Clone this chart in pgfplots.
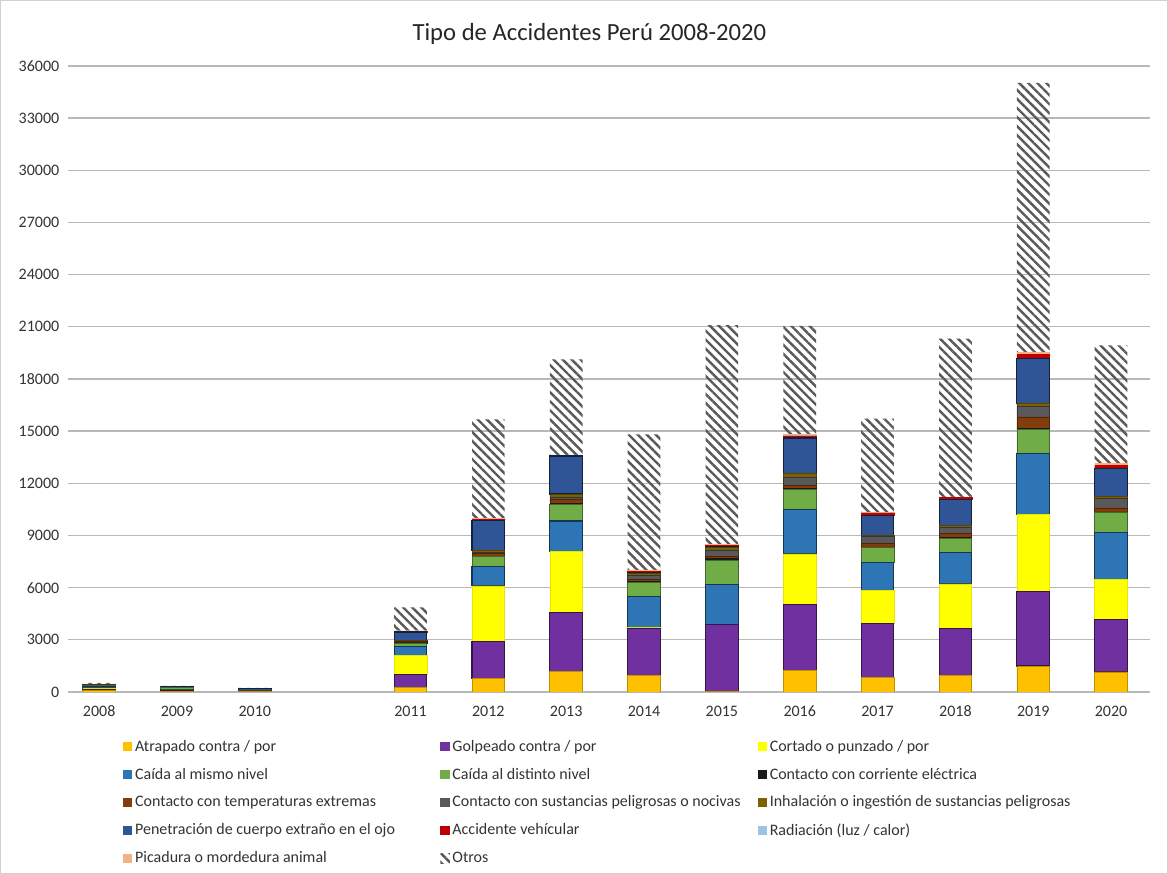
\documentclass[border=0pt]{standalone}
\usepackage{pgfplots}
\pgfplotsset{compat=1.18}
\usepackage{pgfplotstable}
\usepackage{fontspec}
\setmainfont{Carlito}
\usetikzlibrary{patterns.meta}

\definecolor{cAt}{HTML}{FFC000}
\definecolor{cGo}{HTML}{7030A0}
\definecolor{cCo}{HTML}{FFFF00}
\definecolor{cCm}{HTML}{2E75B6}
\definecolor{cCd}{HTML}{70AD47}
\definecolor{cCe}{HTML}{1A1A1A}
\definecolor{cTe}{HTML}{843C0C}
\definecolor{cSu}{HTML}{595959}
\definecolor{cIn}{HTML}{7F6000}
\definecolor{cPe}{HTML}{2F5597}
\definecolor{cVe}{HTML}{C00000}
\definecolor{cRa}{HTML}{9DC3E6}
\definecolor{cPi}{HTML}{F4B183}
\definecolor{cOt}{HTML}{595959}

\pgfplotstableread{
x  at   go   co   cm   cd   ce  te  su  inh pe   ve  ra pi  ot
0  80   40   110  60   100  10  10  10  10  20   5   2  5   60
1  40   30   50   40   100  10  5   5   5   10   5   2  5   50
2  10   20   10   10   10   5   5   5   5   120  5   2  20  10
4  250  770  1090 480  230  20  60  30  40  480  20  5  50  1340
5  770  2110 3220 1130 540  40  150 80  110 1725 60  5  40  5700
6  1190 3355 3545 1745 940  60  270 80  200 2185 30  5  30  5495
7  957  2720 40   1780 805  80  100 250 100 60   60  5  60  7800
8  40   3830 0    2320 1380 100 150 350 150 50   80  5  40  12600
9  1245 3790 2910 2530 1170 50  170 500 190 2050 130 5  60  6250
10 843  3120 1895 1610 823  60  190 400 80  1150 130 5  40  5380
11 938  2700 2585 1780 823  60  250 365 60  1520 95  5  40  9100
12 1494 4310 4424 3466 1417 60  650 613 150 2590 230 10 120 15490
13 1150 3010 2320 2684 1150 50  220 537 130 1590 190 10 120 6770
}\datatable

\begin{document}
\begin{tikzpicture}
\useasboundingbox (0pt,0pt) rectangle (876pt,655.5pt);
\draw[color=black!18, line width=1pt] (0.6pt,0.6pt) rectangle (875.4pt,654.9pt);
\node[font=\fontsize{18.5}{22}\selectfont, color=black!85] at (442pt,630pt) {Tipo de Accidentes Perú 2008-2020};
\begin{axis}[
  at={(51pt,136.5pt)}, anchor=south west, scale only axis,
  width=811.5pt, height=469.5pt,
  ybar stacked, bar width=0.42,
  xmin=-0.4, xmax=13.5, ymin=0, ymax=36000,
  xtick={0,1,2,4,5,6,7,8,9,10,11,12,13},
  xticklabels={2008,2009,2010,2011,2012,2013,2014,2015,2016,2017,2018,2019,2020},
  ytick={0,3000,...,36000},
  scaled y ticks=false,
  ymajorgrids, major grid style={black!28, line width=1pt},
  axis line style={draw=none}, tick style={draw=none},
  /pgf/number format/assume math mode=true,
  tick label style={font=\fontsize{12}{14}\selectfont, color=black!80},
  yticklabel style={/pgf/number format/fixed, /pgf/number format/precision=0, /pgf/number format/1000 sep={}, xshift=-3pt},
  xticklabel style={yshift=-7pt},
  legend columns=3,
  legend cell align=left,
  legend image code/.code={\fill[#1,draw=none] (0pt,-3.5pt) rectangle (7pt,3.5pt);},
  legend style={at={(axis description cs:0.047,-0.068)}, anchor=north west, draw=none, fill=none,
    font=\fontsize{12}{14}\selectfont, text=black!80, row sep=7pt,
    /tikz/every even column/.append style={column sep=0pt}},
]
\addplot[fill=cAt, draw=cAt!75!black, line width=0.6pt] table[x=x,y=at]{\datatable};
\addlegendentry{\makebox[227pt][l]{Atrapado contra / por}}
\addplot[fill=cGo, draw=cGo!45!black, line width=0.8pt] table[x=x,y=go]{\datatable};
\addlegendentry{\makebox[227pt][l]{Golpeado contra / por}}
\addplot[fill=cCo, draw=cCo!90!black, line width=0.4pt] table[x=x,y=co]{\datatable};
\addlegendentry{Cortado o punzado / por}
\addplot[fill=cCm, draw=cCm!45!black, line width=0.8pt] table[x=x,y=cm]{\datatable};
\addlegendentry{\makebox[227pt][l]{Caída al mismo nivel}}
\addplot[fill=cCd, draw=cCd!60!black, line width=0.6pt] table[x=x,y=cd]{\datatable};
\addlegendentry{\makebox[227pt][l]{Caída al distinto nivel}}
\addplot[fill=cCe, draw=cCe, line width=0.4pt] table[x=x,y=ce]{\datatable};
\addlegendentry{Contacto con corriente eléctrica}
\addplot[fill=cTe, draw=cTe!60!black, line width=0.4pt] table[x=x,y=te]{\datatable};
\addlegendentry{\makebox[227pt][l]{Contacto con temperaturas extremas}}
\addplot[fill=cSu, draw=cSu!60!black, line width=0.4pt] table[x=x,y=su]{\datatable};
\addlegendentry{\makebox[227pt][l]{Contacto con sustancias peligrosas o nocivas}}
\addplot[fill=cIn, draw=cIn!70!black, line width=0.4pt] table[x=x,y=inh]{\datatable};
\addlegendentry{Inhalación o ingestión de sustancias peligrosas}
\addplot[fill=cPe, draw=cPe!40!black, line width=0.8pt] table[x=x,y=pe]{\datatable};
\addlegendentry{\makebox[227pt][l]{Penetración de cuerpo extraño en el ojo}}
\addplot[fill=cVe, draw=cVe, line width=0.3pt] table[x=x,y=ve]{\datatable};
\addlegendentry{\makebox[227pt][l]{Accidente vehícular}}
\addplot[fill=cRa, draw=cRa, line width=0.2pt] table[x=x,y=ra]{\datatable};
\addlegendentry{Radiación (luz / calor)}
\addplot[fill=cPi, draw=cPi, line width=0.3pt] table[x=x,y=pi]{\datatable};
\addlegendentry{\makebox[227pt][l]{Picadura o mordedura animal}}
\addplot[draw=none, pattern={Lines[angle=-45,distance=4.8pt,line width=1.8pt]}, pattern color=cOt] table[x=x,y=ot]{\datatable};
\addlegendentry{Otros}
\end{axis}
\end{tikzpicture}
\end{document}
